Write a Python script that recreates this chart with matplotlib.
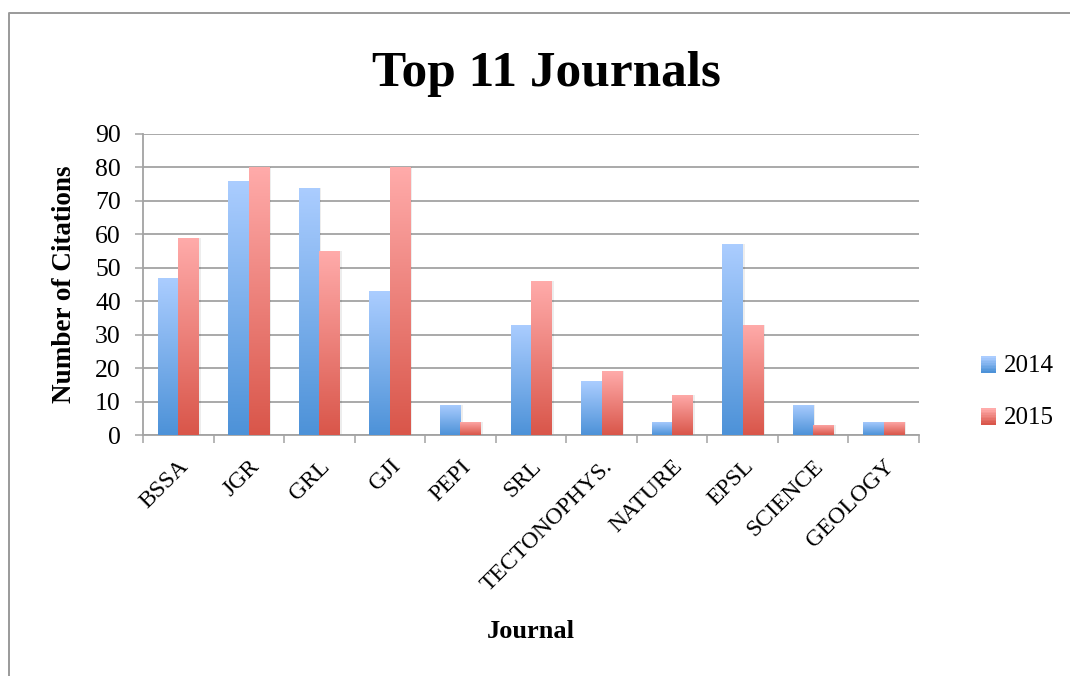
import numpy as np
import matplotlib
matplotlib.use("Agg")
import matplotlib.pyplot as plt
from matplotlib.lines import Line2D
from matplotlib.patches import Rectangle
from matplotlib.legend_handler import HandlerBase
from matplotlib.colors import to_rgb

journals = ["BSSA", "JGR", "GRL", "GJI", "PEPI", "SRL", "TECTONOPHYS.",
            "NATURE", "EPSL", "SCIENCE", "GEOLOGY"]
cites_2014 = [47, 76, 74, 43, 9, 33, 16, 4, 57, 9, 4]
cites_2015 = [59, 80, 55, 80, 4, 46, 19, 12, 33, 3, 4]
years = ["2014", "2015"]
yticks = [0, 10, 20, 30, 40, 50, 60, 70, 80, 90]

# top / bottom gradient colours
blue = ("#abcdff", "#4d92d8")
red = ("#ffabaa", "#d9564a")

plt.rcParams['font.family'] = ['Liberation Serif', 'DejaVu Serif']

fig = plt.figure(figsize=(10.7, 6.76), dpi=100)
ax = fig.add_axes([143/1070, 1-435/676, 776/1070, 301/676])


def grad(top, bottom, n=128):
    t = np.linspace(0, 1, n)[:, None]
    c0 = np.array(to_rgb(top))
    c1 = np.array(to_rgb(bottom))
    return (c0 * (1 - t) + c1 * t)[:, None, :]


x = np.arange(len(journals))
w = 0.29
b1 = ax.bar(x - w/2, cites_2014, w, facecolor='none', edgecolor='none', zorder=3)
b2 = ax.bar(x + w/2, cites_2015, w, facecolor='none', edgecolor='none', zorder=3)

for bars, cols in [(b1, blue), (b2, red)]:
    for b in bars:
        x0, h, bw = b.get_x(), b.get_height(), b.get_width()
        # faint shadow
        ax.add_patch(Rectangle((x0 + 0.03, 0), bw, h, facecolor='#000000',
                               alpha=0.07, edgecolor='none', zorder=2))
        im = ax.imshow(grad(*cols), extent=(x0, x0 + bw, 0, h), aspect='auto',
                       zorder=3, interpolation='bilinear')
        im.set_clip_path(b)

ax.set_xlim(-0.5, len(journals) - 0.5)
ax.set_ylim(0, 90)
ax.set_aspect('auto')

gc = '#a3a3a3'
ax.set_yticks(yticks)
ax.yaxis.grid(True, color=gc, lw=1.3, zorder=0)
ax.set_axisbelow(True)
ax.tick_params(axis='y', length=6, width=1.1, color=gc, pad=10, labelsize=18.5)

ax.set_xticks(np.arange(len(journals) + 1) - 0.5)
ax.set_xticklabels([])
ax.tick_params(axis='x', which='major', length=6, width=1.1, color=gc)
ax.set_xticks(x, minor=True)
ax.set_xticklabels(journals, minor=True, rotation=45, ha='right',
                   rotation_mode='anchor', fontsize=17)
ax.tick_params(axis='x', which='minor', length=0, pad=15)

for s in ['top', 'right']:
    ax.spines[s].set_visible(False)
for s in ['left', 'bottom']:
    ax.spines[s].set_color(gc)
    ax.spines[s].set_linewidth(1.3)

ax.set_ylabel("Number of Citations", fontsize=19.5, fontweight='bold')
ax.yaxis.set_label_coords(-0.085, 0.5)
ax.set_xlabel("Journal", fontsize=19, fontweight='bold')
ax.xaxis.set_label_coords(0.5, -0.615)

fig.text(546/1070, 1-74/676, "Top 11 Journals", fontsize=37, fontweight='bold',
         ha='center', va='center')


class GradHandler(HandlerBase):
    def __init__(self, cols):
        super().__init__()
        self.cols = cols

    def create_artists(self, legend, orig, xd, yd, width, height, fontsize, trans):
        arts = []
        n = 10
        c0 = np.array(to_rgb(self.cols[0]))
        c1 = np.array(to_rgb(self.cols[1]))
        for i in range(n):
            t = i / (n - 1)
            c = c1 * (1 - t) + c0 * t
            arts.append(Rectangle((xd, yd + i * height / n), width, height / n + 0.3,
                                  facecolor=c, edgecolor='none', transform=trans))
        return arts


h1 = Rectangle((0, 0), 1, 1)
h2 = Rectangle((0, 0), 1, 1)
fig.legend([h1, h2], years, loc='center left',
           bbox_to_anchor=(968/1070, 1-392/676), frameon=False, fontsize=18,
           handlelength=0.62, handleheight=0.62, handletextpad=0.3,
           labelspacing=1.2, borderpad=0,
           handler_map={h1: GradHandler(blue), h2: GradHandler(red)})

fig.add_artist(Line2D([9/1070, 9/1070, 1], [0, 1-12.5/676, 1-12.5/676],
                      transform=fig.transFigure, color='#9a9a9a', lw=1.4))

fig.savefig("out.png", dpi=100)
